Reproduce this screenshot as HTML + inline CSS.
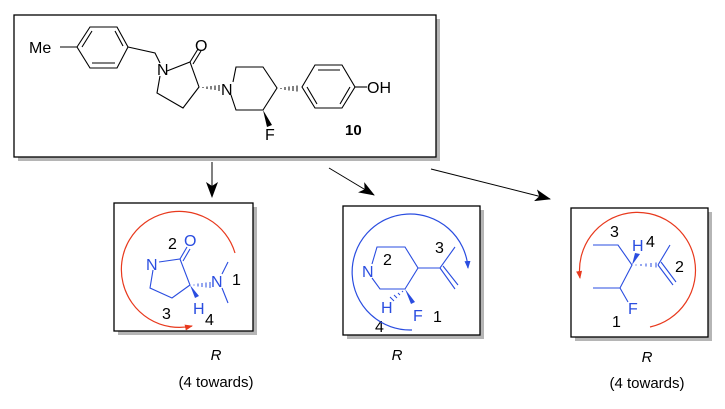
<!DOCTYPE html>
<html><head><meta charset="utf-8"><style>
html,body{margin:0;padding:0;background:#fff;}
svg{display:block;font-family:"Liberation Sans",Arial,sans-serif;}
</style></head><body>
<svg width="725" height="409" viewBox="0 0 725 409" xmlns="http://www.w3.org/2000/svg">
<defs>
<marker id="ahb" markerWidth="16" markerHeight="12" refX="15" refY="6" orient="auto" markerUnits="userSpaceOnUse"><path d="M0,0 L16,6 L0,12 L4,6 Z" fill="#000"/></marker>
<marker id="ar" markerWidth="8" markerHeight="6" refX="7" refY="3" orient="auto" markerUnits="userSpaceOnUse"><path d="M0,0 L8,3 L0,6 Z" fill="#e8391d"/></marker>
<marker id="ab" markerWidth="8" markerHeight="6" refX="7" refY="3" orient="auto" markerUnits="userSpaceOnUse"><path d="M0,0 L8,3 L0,6 Z" fill="#2a4de0"/></marker>
</defs>
<rect x="18" y="19" width="422" height="142" fill="#b5b5b5"/>
<rect x="14" y="15" width="422" height="142" fill="#fff" stroke="#000" stroke-width="1.3"/>
<g stroke="#000" stroke-width="1.1" fill="none">
<path d="M60,47 L77,47"/>
<path d="M77,47 L90,27 L117,27 L128,47 L117,68 L90,68 Z"/>
<path d="M82,47 L92,31 M115,31 L123,46 M92,63 L115,63"/>
<path d="M128,47 L155,53 L160,63"/>
<path d="M167,71 L190,62 L199,87 L183,108 L157,93 L160,76"/>
<path d="M190,62 L198,49 M193,64 L201,51"/>
<path d="M233,82 L236,67 L263,67 L277,88 L263,110 L236,110 L231,95"/>
<path d="M302,87 L315,65 L342,65 L355,87 L342,108 L315,108 Z"/>
<path d="M318,70 L340,70 M307,87 L317,104 M350,87 L340,104"/>
<path d="M355,87 L367,87"/>
</g>
<g stroke="#000" stroke-width="1">
<path d="M203,87 L203,88 M207,86.5 L207,89 M211,86 L211,89.5 M215,85.5 L215,90 M219,85 L219,91"/>
<path d="M281,88 L281,89 M285,87 L285,90 M289,86.5 L289,90.5 M293,86 L293,91 M297,85.5 L297,91.5"/>
</g>
<path d="M263,110 L267,127 L272,125 Z" fill="#000"/>
<g font-size="16" fill="#000">
<text x="29" y="53">Me</text>
<text x="157" y="75">N</text>
<text x="195" y="51">O</text>
<text x="221" y="95">N</text>
<text x="265" y="140">F</text>
<text x="367" y="93">OH</text>
<text x="345" y="135" font-weight="bold" font-size="15">10</text>
</g>
<g stroke="#000" stroke-width="1">
<line x1="212" y1="162" x2="212" y2="197" marker-end="url(#ahb)"/>
<line x1="329" y1="168" x2="374" y2="195" marker-end="url(#ahb)"/>
<line x1="431" y1="169" x2="550" y2="199" marker-end="url(#ahb)"/>
</g>
<rect x="118" y="207" width="139" height="128" fill="#b5b5b5"/>
<rect x="114" y="203" width="139" height="128" fill="#fff" stroke="#000" stroke-width="1.3"/>
<g stroke="#2a4de0" stroke-width="1.1" fill="none">
<path d="M159,262 L180,259 L190,285 L172,298 L150,288 L153,270"/>
<path d="M180,259 L187,247 M183,261 L190,249"/>
<path d="M222,274 L228,262 M222,288 L228,303"/>
</g>
<g stroke="#2a4de0" stroke-width="1"><path d="M194,284.5 L194,285.5 M198,283.5 L198,286.5 M202,283 L202,287 M206,282.5 L206,287.5 M210,282 L210,288"/></g>
<path d="M190,285 L195,298 L199,296 Z" fill="#2a4de0"/>
<g font-size="16" fill="#2a4de0">
<text x="146" y="270">N</text><text x="184" y="246">O</text><text x="211" y="287">N</text><text x="193" y="314">H</text>
</g>
<g font-size="16" fill="#000">
<text x="168" y="249">2</text><text x="232" y="285">1</text><text x="205" y="325">4</text><text x="162" y="319">3</text>
</g>
<path d="M235,253 A58,58 0 1 0 192,326" fill="none" stroke="#e8391d" stroke-width="1.2" marker-end="url(#ar)"/>
<rect x="347" y="210" width="137" height="129" fill="#b5b5b5"/>
<rect x="343" y="206" width="137" height="129" fill="#fff" stroke="#000" stroke-width="1.3"/>
<g stroke="#2a4de0" stroke-width="1.1" fill="none">
<path d="M372,264 L377,247 L405,247 L418,268 L405,289 L380,289 L372,278"/>
<path d="M418,268 L440,268 L455,247 M440,268 L455,289 M443,266 L458,285"/>
</g>
<g stroke="#2a4de0" stroke-width="1"><path d="M402,291 L403,292 M398,293 L400,295 M394,295 L397,298 M390,297 L394,301"/></g>
<path d="M405,289 L411,304 L415,302 Z" fill="#2a4de0"/>
<g font-size="16" fill="#2a4de0">
<text x="362" y="277">N</text><text x="381" y="313">H</text><text x="413" y="321">F</text>
</g>
<g font-size="16" fill="#000">
<text x="383" y="265">2</text><text x="435" y="253">3</text><text x="433" y="322">1</text><text x="375" y="332">4</text>
</g>
<path d="M412,330 A58,58 0 1 1 468,268" fill="none" stroke="#2a4de0" stroke-width="1.2" marker-end="url(#ab)"/>
<rect x="575" y="212" width="137" height="129" fill="#b5b5b5"/>
<rect x="571" y="208" width="137" height="129" fill="#fff" stroke="#000" stroke-width="1.3"/>
<g stroke="#2a4de0" stroke-width="1.1" fill="none">
<path d="M593,245 L618,245 L632,265 L620,288 L593,288 M620,288 L628,302"/>
<path d="M658,265 L670,245 M658,265 L673,285 M661,262 L676,282"/>
</g>
<g stroke="#2a4de0" stroke-width="1"><path d="M636,264.5 L636,265.5 M641,264 L641,266 M646,263.5 L646,266.5 M651,263 L651,267 M656,262.5 L656,267.5"/></g>
<path d="M632,265 L635,253 L640,254 Z" fill="#2a4de0"/>
<g font-size="16" fill="#2a4de0">
<text x="632" y="251">H</text><text x="628" y="314">F</text>
</g>
<g font-size="16" fill="#000">
<text x="610" y="237">3</text><text x="646" y="247">4</text><text x="675" y="272">2</text><text x="612" y="327">1</text>
</g>
<path d="M650,327 A58,58 0 1 0 580,278" fill="none" stroke="#e8391d" stroke-width="1.2" marker-end="url(#ar)"/>
<g font-size="15" fill="#000" text-anchor="middle">
<text x="216" y="360" font-style="italic">R</text>
<text x="216" y="387">(4 towards)</text>
<text x="397" y="360" font-style="italic">R</text>
<text x="647" y="362" font-style="italic">R</text>
<text x="647" y="388">(4 towards)</text>
</g>
</svg>
</body></html>
